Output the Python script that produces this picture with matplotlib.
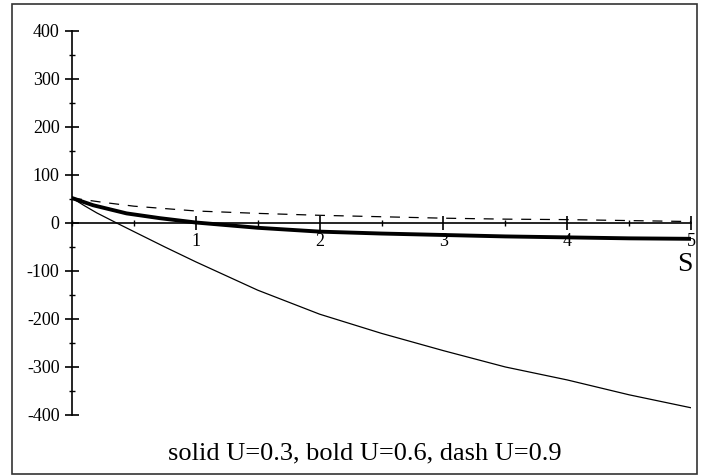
import matplotlib
matplotlib.use("Agg")
import matplotlib.pyplot as plt
from matplotlib.patches import Rectangle
from matplotlib.ticker import MultipleLocator


# ---------------- DATA ----------------

# thin solid curve, U = 0.3
s_thin = [0, 0.1, 0.2, 0.36, 0.5, 0.75, 1, 1.5, 2, 2.5, 3, 3.5, 4, 4.5, 5]
v_thin = [52, 36, 21, 0, -18, -50, -81, -140, -190, -230, -266, -300, -327, -358, -385]

# bold curve, U = 0.6
s_bold = [0, 0.17, 0.44, 0.71, 1, 1.5, 2, 2.5, 3, 3.5, 4, 4.5, 5]
v_bold = [52, 37, 20, 10, 1, -10, -18, -22, -25, -28, -30, -32, -33]

# dashed curve, U = 0.9
s_dash = [0, 0.25, 0.5, 0.75, 1, 1.5, 2, 2.5, 3, 3.5, 4, 4.5, 5]
v_dash = [52, 43, 35, 30, 25, 20, 16, 13, 10, 8, 7, 5, 3]

x_ticks = [1, 2, 3, 4, 5]
y_ticks = [-400, -300, -200, -100, 0, 100, 200, 300, 400]

caption = "solid U=0.3, bold U=0.6, dash U=0.9"


# ---------------- FIGURE ----------------

plt.rcParams["font.family"] = ["Liberation Serif", "DejaVu Serif"]
plt.rcParams["axes.unicode_minus"] = False

fig = plt.figure(figsize=(7.02, 4.76), dpi=100)
ax = fig.add_axes([0.1026, 0.1282, 0.8818, 0.8067])

ax.plot(s_thin, v_thin, color="black", linewidth=0.9)
ax.plot(s_bold, v_bold, color="black", linewidth=2.8)
ax.plot(s_dash, v_dash, color="black", linewidth=0.9, dashes=(8, 7))

ax.set_xlim(0, 5)
ax.set_ylim(-400, 400)

# axes crossing at the origin
ax.spines["left"].set_position(("data", 0))
ax.spines["bottom"].set_position(("data", 0))
ax.spines["right"].set_visible(False)
ax.spines["top"].set_visible(False)
for sp in ("left", "bottom"):
    ax.spines[sp].set_linewidth(1.2)

ax.set_xticks(x_ticks)
ax.set_yticks(y_ticks)
ax.xaxis.set_minor_locator(MultipleLocator(0.5))
ax.yaxis.set_minor_locator(MultipleLocator(50))

ax.tick_params(which="major", direction="inout", length=10, width=1.2,
               labelsize=13, pad=2)
ax.tick_params(which="minor", direction="inout", length=5, width=1.0)
ax.tick_params(axis="y", pad=4)

# axis name sits just under the last tick label, as in the reference
ax.text(4.95, -60, "S", fontsize=20, ha="center", va="top")

fig.text(0.52, 0.048, caption, fontsize=19, ha="center", va="center")

# outer frame
fig.patches.append(Rectangle((12 / 702, 2 / 476), 685 / 702, 470 / 476,
                             transform=fig.transFigure, fill=False,
                             edgecolor="#333333", linewidth=1.2))

fig.savefig("out.png", dpi=100)
